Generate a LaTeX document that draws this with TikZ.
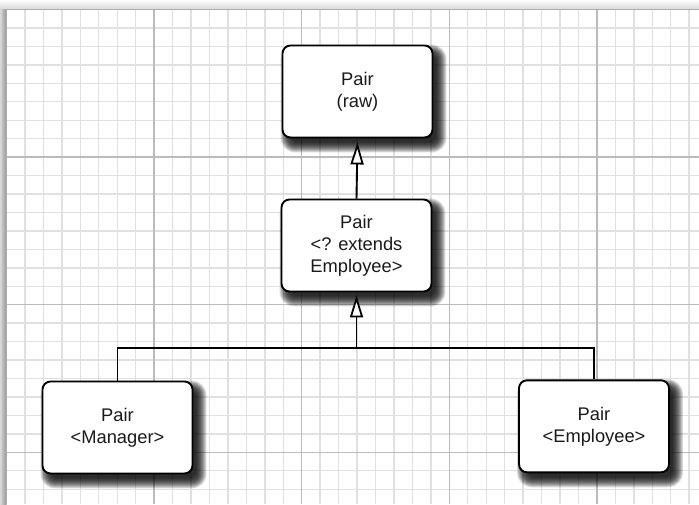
\documentclass[tikz,border=0pt]{standalone}
\usepackage{fontspec}
\setmainfont{Liberation Sans}
\usetikzlibrary{arrows.meta}
\pgfdeclarelayer{bg}
\pgfdeclarelayer{sh}
\pgfsetlayers{bg,sh,main}
\definecolor{minorgrid}{HTML}{E0E0E0}
\definecolor{majorgrid}{HTML}{BBBBBB}
\definecolor{txt}{HTML}{1A1A1A}
\tikzset{
  classbox/.style={draw=black, line width=1.9pt, fill=white, rounded corners=8pt,
    minimum width=150pt, minimum height=92pt, inner sep=0pt, align=center,
    text=txt, font=\fontsize{18.3}{22}\selectfont},
  conn/.style={draw=black, line width=1.9pt},
  inherit/.style={conn, -{Triangle[open, fill=white, length=22pt, width=13pt, line width=1.8pt]}},
  minorline/.style={draw=minorgrid, line width=1.4pt},
  majorline/.style={draw=majorgrid, line width=1.5pt},
}
\begin{document}
\begin{tikzpicture}[x=1pt,y=-1pt]
\useasboundingbox (0,0) rectangle (699,504);
% backdrop
\begin{pgfonlayer}{bg}
\fill[white] (0,0) rectangle (699,504);
\shade[top color=white, bottom color=black!16] (0,0) rectangle (699,9.5);
\shade[left color=black!15, right color=black!42] (0,9.5) rectangle (6.5,504);
\fill[white] (6.5,9.5) rectangle (699,504);
\begin{scope}
\clip (6.5,9.5) rectangle (699,504);
\foreach \i in {0,...,38} {
  \draw[minorline] ({6.5+\i*18.45},9.5) -- ({6.5+\i*18.45},504);
}
\foreach \i in {0,...,27} {
  \draw[minorline] (6.5,{9.5+\i*18.45}) -- (699,{9.5+\i*18.45});
}
\foreach \i in {1,...,4} {
  \draw[majorline] ({6.5+\i*147.6},9.5) -- ({6.5+\i*147.6},504);
}
\foreach \i in {1,...,3} {
  \draw[majorline] (6.5,{9.5+\i*147.6}) -- (699,{9.5+\i*147.6});
}
\end{scope}
\draw[black!32, line width=1.2pt] (6.5,504) -- (6.5,9.5) -- (699,9.5);
\end{pgfonlayer}

% boxes
\node[classbox] (raw) at (357.5,91.5) {Pair\\(raw)};
\node[classbox] (ext) at (356.5,245.5) {Pair\\<? extends\\Employee>};
\node[classbox] (mgr) at (117.5,427.5) {Pair\\<Manager>};
\node[classbox] (emp) at (594,426.3) {Pair\\<Employee>};

% shadows
\begin{pgfonlayer}{sh}
\foreach \n in {raw,ext,mgr,emp} {
  \foreach \d in {-3,-2,...,7} {
    \fill[black, opacity=0.14, rounded corners={8pt+max(\d,0)*1pt}]
      ([shift={(6-\d,7-\d)}]\n.north west) rectangle ([shift={(6+\d,7+\d)}]\n.south east);
  }
}
\end{pgfonlayer}

% connectors
\coordinate (j) at (356.5,348);
\draw[conn] (mgr.north) |- (j) -| (emp.north);
\draw[inherit, shorten >=3pt] (j) -- (ext.south);
\draw[inherit, shorten >=4pt] (ext.north) -- (raw.south);
\end{tikzpicture}
\end{document}
